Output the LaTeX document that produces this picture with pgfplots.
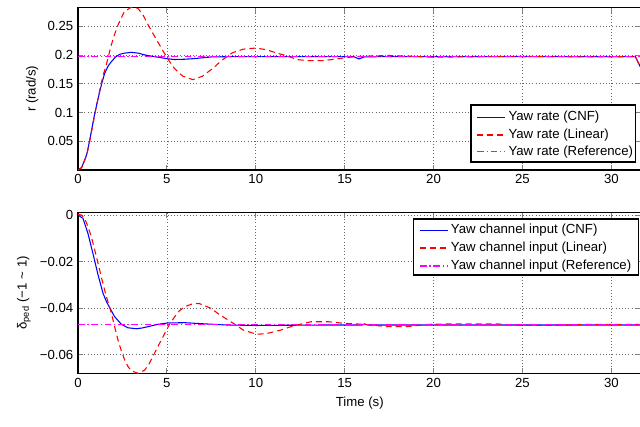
\documentclass[border=0pt]{standalone}
\usepackage{fontspec}
\setmainfont{Liberation Sans}
\usepackage{pgfplots}
\pgfplotsset{compat=1.18}

\definecolor{cnfblue}{RGB}{0,0,255}
\definecolor{linred}{RGB}{255,0,0}
\definecolor{refmag}{RGB}{255,0,255}

\tikzset{
  cnfline/.style={draw=cnfblue, line width=0.8pt},
  linline/.style={draw=linred, line width=0.8pt, dash pattern=on 4.5pt off 3pt},
  refline/.style={draw=refmag, line width=0.8pt, dash pattern=on 5pt off 2pt on 1pt off 2pt},
  legbox/.style={fill=white, draw=black, line width=0.9pt},
  legtext/.style={anchor=west, inner sep=0pt, font=\fontsize{9.9}{11}\selectfont},
}

\pgfplotsset{
  yawaxis/.style={
    scale only axis, width=422.7pt,
    xmin=0, xmax=31.7,
    xtick={0,5,...,30},
    scaled y ticks=false,
    tick align=inside, major tick length=4pt,
    grid=major, grid style={dotted, black!60, line width=0.5pt},
    axis line style={line width=1.1pt},
    tick style={line width=0.6pt},
    tick label style={font=\fontsize{9.9}{11}\selectfont},
    label style={font=\fontsize{9.9}{11}\selectfont},
    /pgf/number format/assume math mode=true,
  },
}

\begin{document}
\begin{tikzpicture}
% yaw rate
\begin{axis}[yawaxis, at={(58.5pt,192pt)}, anchor=south west, height=121.7pt,
  ymin=0, ymax=0.282,
  ytick={0.05,0.1,0.15,0.2,0.25}, yticklabels={0.05,0.1,0.15,0.2,0.25},
  ylabel={r (rad/s)}]
\addplot[cnfline] coordinates {
  (0,0) (0.2,0.004) (0.37,0.017) (0.5,0.028) (0.66,0.052) (0.8,0.075)
  (0.94,0.098) (1.1,0.12) (1.22,0.136) (1.35,0.152) (1.5,0.168) (1.7,0.181)
  (1.87,0.188) (2.1,0.196) (2.34,0.201) (2.6,0.203) (3.0,0.2045) (3.4,0.203)
  (3.75,0.2) (4.1,0.198) (4.5,0.196) (5.0,0.1935) (5.4,0.192) (6.0,0.1925)
  (6.5,0.1935) (7.0,0.195) (7.5,0.1965) (8.5,0.197) (10,0.197) (12,0.197)
  (14,0.197) (15.5,0.197) (15.8,0.193) (16.1,0.1965) (17,0.197) (20,0.197)
  (25,0.197) (30,0.197) (31.35,0.197) (31.6,0.181) (31.7,0.175)};
\addplot[linline] coordinates {
  (0,0) (0.2,0.004) (0.37,0.016) (0.5,0.027) (0.66,0.05) (0.8,0.073)
  (0.94,0.096) (1.1,0.12) (1.22,0.138) (1.4,0.163) (1.6,0.184) (1.87,0.217)
  (2.05,0.235) (2.25,0.252) (2.6,0.275) (3.0,0.283) (3.37,0.281) (3.65,0.27)
  (3.93,0.253) (4.2,0.238) (4.5,0.222) (4.8,0.206) (5.06,0.193) (5.3,0.181)
  (5.6,0.171) (5.9,0.163) (6.46,0.157) (7.0,0.163) (7.6,0.177) (8.1,0.191)
  (8.7,0.204) (9.3,0.21) (10.0,0.212) (10.6,0.209) (11.2,0.203) (11.8,0.198)
  (12.3,0.192) (12.9,0.19) (13.7,0.19) (14.3,0.192) (15.0,0.195) (15.6,0.197)
  (16.4,0.198) (17.5,0.199) (18.5,0.198) (19.5,0.1965) (20.5,0.196)
  (21.5,0.1965) (23,0.197) (25,0.1975) (27,0.197) (29,0.1965) (31.35,0.197)
  (31.6,0.181) (31.7,0.175)};
\addplot[refline] coordinates {(0,0.197) (31.7,0.197)};
% legend drawn by hand
\draw[legbox] (rel axis cs:0.6973,0.049) rectangle (rel axis cs:0.989,0.4005);
\draw[cnfline] (rel axis cs:0.7085,0.3247) -- (rel axis cs:0.7577,0.3247);
\draw[linline] (rel axis cs:0.7085,0.2157) -- (rel axis cs:0.7577,0.2157);
\draw[refline] (rel axis cs:0.7085,0.1128) -- (rel axis cs:0.7577,0.1128);
\node[legtext] at (rel axis cs:0.7635,0.3247) {Yaw rate (CNF)};
\node[legtext] at (rel axis cs:0.7635,0.2157) {Yaw rate (Linear)};
\node[legtext] at (rel axis cs:0.7635,0.1128) {Yaw rate (Reference)};
\end{axis}
% yaw channel input
\begin{axis}[yawaxis, at={(58.5pt,39.5pt)}, anchor=south west, height=120.75pt,
  ymin=-0.0681, ymax=0.0012,
  ytick={-0.06,-0.04,-0.02,0}, yticklabels={−0.06,−0.04,−0.02,0},
  xlabel={Time (s)},
  ylabel={δ\textsubscript{ped} (−1 \textasciitilde{} 1)}]
\addplot[cnfline] coordinates {
  (0,0) (0.28,-0.0014) (0.56,-0.0079) (0.84,-0.0165) (1.13,-0.0258)
  (1.41,-0.0337) (1.6,-0.0372) (1.78,-0.0398) (2.06,-0.0437) (2.44,-0.047)
  (2.81,-0.0485) (3.28,-0.0489) (3.6,-0.0486) (3.94,-0.048) (4.5,-0.047)
  (5.07,-0.0464) (6.0,-0.0463) (7.1,-0.0468) (8.4,-0.0473) (10,-0.0475)
  (12,-0.0474) (14,-0.0473) (16,-0.0473) (16.1,-0.0468) (16.3,-0.0473)
  (20,-0.0473) (25,-0.0473) (31.7,-0.0473)};
\addplot[linline] coordinates {
  (0,0.0004) (0.2,0.0) (0.375,-0.0014) (0.56,-0.005) (0.75,-0.0093)
  (0.94,-0.015) (1.13,-0.0208) (1.31,-0.0266) (1.5,-0.0323) (1.69,-0.0375)
  (1.88,-0.0423) (2.06,-0.048) (2.25,-0.0538) (2.44,-0.0585) (2.63,-0.0624)
  (2.8,-0.065) (3.0,-0.067) (3.38,-0.0681) (3.75,-0.0667) (4.0,-0.064)
  (4.3,-0.0595) (4.6,-0.055) (4.88,-0.0509) (5.15,-0.047) (5.44,-0.0437)
  (5.7,-0.0412) (6.0,-0.0394) (6.4,-0.0383) (6.8,-0.038) (7.42,-0.0399)
  (8.0,-0.043) (8.74,-0.0466) (9.3,-0.0495) (10.05,-0.0513) (10.6,-0.051)
  (11.4,-0.0495) (12.1,-0.0477) (13.1,-0.0459) (14.1,-0.0459) (15.0,-0.0466)
  (16.1,-0.047) (17.4,-0.048) (18.5,-0.048) (19.7,-0.047) (21.2,-0.0468)
  (23.5,-0.0468) (25,-0.0475) (27,-0.0474) (29,-0.047) (31.7,-0.047)};
\addplot[refline] coordinates {(0,-0.047) (31.7,-0.047)};
\draw[legbox] (rel axis cs:0.5949,0.6106) rectangle (rel axis cs:0.9941,0.9584);
\draw[cnfline] (rel axis cs:0.6068,0.890) -- (rel axis cs:0.657,0.890);
\draw[linline] (rel axis cs:0.6068,0.7783) -- (rel axis cs:0.657,0.7783);
\draw[refline] (rel axis cs:0.6068,0.6665) -- (rel axis cs:0.657,0.6665);
\node[legtext] at (rel axis cs:0.6613,0.890) {Yaw channel input (CNF)};
\node[legtext] at (rel axis cs:0.6613,0.7783) {Yaw channel input (Linear)};
\node[legtext] at (rel axis cs:0.6613,0.6665) {Yaw channel input (Reference)};
\end{axis}
\pgfresetboundingbox
\path (0pt,0pt) rectangle (480pt,319.5pt);
\end{tikzpicture}
\end{document}
